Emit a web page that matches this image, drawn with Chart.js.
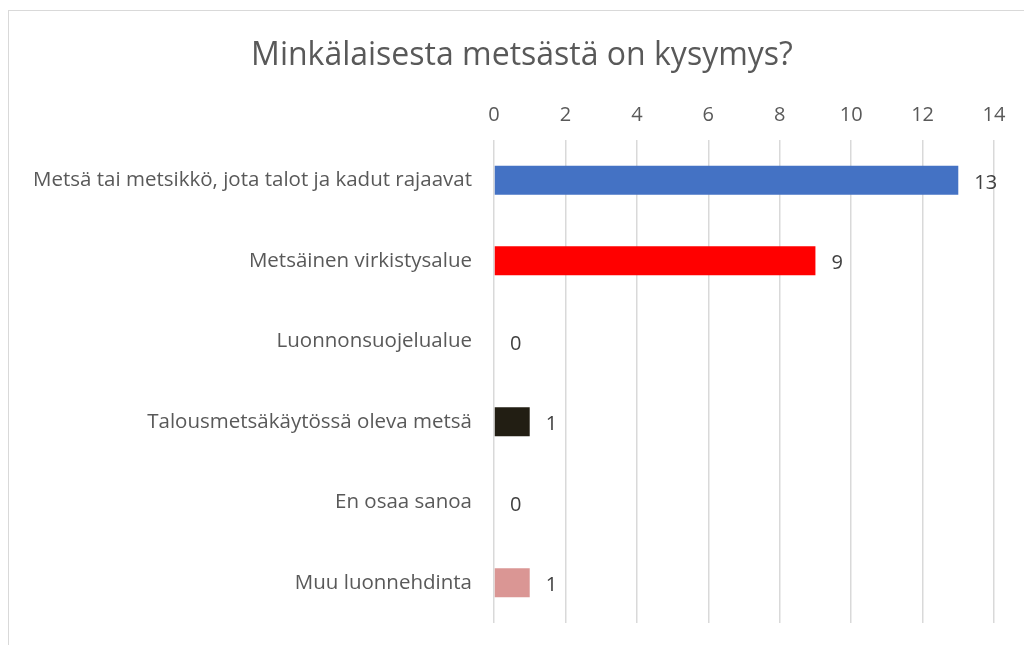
<!DOCTYPE html>
<html>
<head>
<meta charset="utf-8">
<script src="https://cdn.jsdelivr.net/npm/chart.js@4/dist/chart.umd.min.js"></script>
<style>
  html, body { margin: 0; padding: 0; background: #ffffff; overflow: hidden; }
  #frame { position: absolute; left: 8px; top: 10px; width: 1100px; height: 700px; border: 1.5px solid #d9d9d9; box-sizing: border-box; }
  #wrap { position: absolute; left: 0; top: 0; width: 1024px; height: 645px; }
  canvas { display: block; }
</style>
</head>
<body>
<div id="frame"></div>
<div id="wrap"><canvas id="c" width="1024" height="645"></canvas></div>
<script>
const chartTitle = "Minkälaisesta metsästä on kysymys?";
const categories = [
  "Metsä tai metsikkö, jota talot ja kadut rajaavat",
  "Metsäinen virkistysalue",
  "Luonnonsuojelualue",
  "Talousmetsäkäytössä oleva metsä",
  "En osaa sanoa",
  "Muu luonnehdinta"
];
const values = [13, 9, 0, 1, 0, 1];
const barColors = ["#4472C4", "#FF0000", "#A5A5A5", "#221E13", "#5B9BD5", "#DA9694"];
const xMin = 0, xMax = 14, xStep = 2;

const FONT = "'Open Sans', sans-serif";
const TXT = "#595959";

const valueLabels = {
  id: "valueLabels",
  afterDatasetsDraw(chart) {
    const ctx = chart.ctx;
    const meta = chart.getDatasetMeta(0);
    ctx.save();
    ctx.font = "20px " + FONT;
    ctx.fillStyle = "#404040";
    ctx.textAlign = "left";
    ctx.textBaseline = "middle";
    meta.data.forEach((el, i) => {
      ctx.fillText(String(values[i]), el.x + 16, el.y + 3);
    });
    ctx.restore();
  }
};

const titleDraw = {
  id: "titleDraw",
  afterDraw(chart) {
    const ctx = chart.ctx;
    ctx.save();
    ctx.font = "32px " + FONT;
    ctx.fillStyle = TXT;
    ctx.textAlign = "center";
    ctx.textBaseline = "middle";
    ctx.fillText(chartTitle, 522, 56);
    ctx.restore();
  }
};

new Chart(document.getElementById("c"), {
  type: "bar",
  data: {
    labels: categories,
    datasets: [{
      data: values,
      backgroundColor: barColors,
      borderWidth: 0,
      categoryPercentage: 1,
      barPercentage: 0.36
    }]
  },
  options: {
    indexAxis: "y",
    responsive: false,
    animation: false,
    layout: { padding: { left: 0, right: 30, top: 83, bottom: 22 } },
    plugins: {
      legend: { display: false },
      tooltip: { enabled: false },
      title: { display: false }
    },
    scales: {
      x: {
        position: "top",
        min: xMin, max: xMax,
        ticks: { stepSize: xStep, color: TXT, font: { family: FONT, size: 20 }, padding: 13 },
        grid: { color: "#d9d9d9", lineWidth: 1.5, drawTicks: false },
        border: { display: false },
        afterFit(s) { s.height = 57; s.paddingLeft = 0; s.paddingRight = 0; }
      },
      y: {
        ticks: { color: TXT, font: { family: FONT, size: 20.5 }, padding: 22 },
        grid: { display: false, drawTicks: false },
        border: { display: false },
        afterFit(s) { s.width = 494; s.paddingTop = 0; s.paddingBottom = 0; }
      }
    }
  },
  plugins: [valueLabels, titleDraw]
});
</script>
</body>
</html>
